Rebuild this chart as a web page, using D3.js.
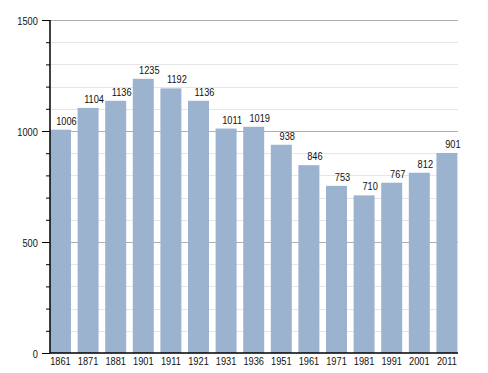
<!DOCTYPE html>
<html><head><meta charset="utf-8">
<script src="https://cdn.jsdelivr.net/npm/d3@7"></script>
<style>body{margin:0;background:#fff}svg{display:block}text{font-family:"Liberation Sans",Arial,sans-serif;font-size:11px;fill:#111}</style>
</head><body><svg id="c" width="488" height="373"></svg>
<script>
const years = ["1861","1871","1881","1901","1911","1921","1931","1936","1951","1961","1971","1981","1991","2001","2011"];
const population = [1006,1104,1136,1235,1192,1136,1011,1019,938,846,753,710,767,812,901];
const majorTicks = [0,500,1000,1500];

const FONT = '"Liberation Sans",Arial,sans-serif';
const SX = 0.84;
const svg = d3.select("#c");
const x = d3.scaleBand().domain(years).range([50, 457.4]).paddingInner(0.24).paddingOuter(0).align(0);
const y = d3.scaleLinear().domain([0,1500]).range([353, 20]);
const minorTicks = d3.range(0, 1501, 100);

// gridlines
svg.append("g").selectAll("line").data(minorTicks.filter(t=>t>0)).join("line")
  .attr("x1",50).attr("x2",458)
  .attr("y1",d=>Math.round(y(d))+0.5).attr("y2",d=>Math.round(y(d))+0.5)
  .attr("stroke",d=>d%500===0?"#b0b0b0":"#e6e6e6").attr("stroke-width",1);

// bars
svg.append("g").selectAll("rect").data(years).join("rect")
  .attr("x",(d)=>x(d)).attr("width",x.bandwidth())
  .attr("y",(d,i)=>y(population[i])).attr("height",(d,i)=>y(0)-y(population[i]))
  .attr("fill","#9bb3cf");

// value labels
svg.append("g").selectAll("text").data(years).join("text")
  .attr("transform",(d,i)=>`translate(${x(d)+x.bandwidth()/2+6},${y(population[i])-5}) scale(${SX},1)`)
  .attr("text-anchor","middle").attr("font-size",11.5).text((d,i)=>population[i]);

// y axis minor ticks
const yMinor = d3.axisLeft(y).tickValues(minorTicks).tickSize(4).tickFormat("");
svg.append("g").attr("transform","translate(50,0)").call(yMinor)
  .call(g=>g.select(".domain").remove())
  .call(g=>g.selectAll("line").attr("stroke","#000"));
const yMajor = d3.axisLeft(y).tickValues(majorTicks).tickSize(8).tickPadding(6.5).tickFormat(d3.format("d"));
svg.append("g").attr("transform","translate(50,0)").call(yMajor)
  .call(g=>g.select(".domain").attr("stroke","#000").attr("stroke-width",1.5).attr("d","M0,353V20"))
  .call(g=>g.selectAll("text").attr("font-size",11.5).attr("font-family",FONT).attr("fill","#111")
    .attr("dy","0.45em").attr("transform",`scale(${SX},1)`));

// x axis
const xAxis = d3.axisBottom(x).tickSize(0).tickPadding(4);
svg.append("g").attr("transform","translate(0,353)").call(xAxis)
  .call(g=>g.select(".domain").attr("stroke","#000").attr("stroke-width",1.5).attr("d","M50,0H458"))
  .call(g=>g.selectAll("text").attr("font-size",11).attr("font-family",FONT).attr("fill","#111")
    .attr("transform",`scale(${SX},1)`));
</script></body></html>
